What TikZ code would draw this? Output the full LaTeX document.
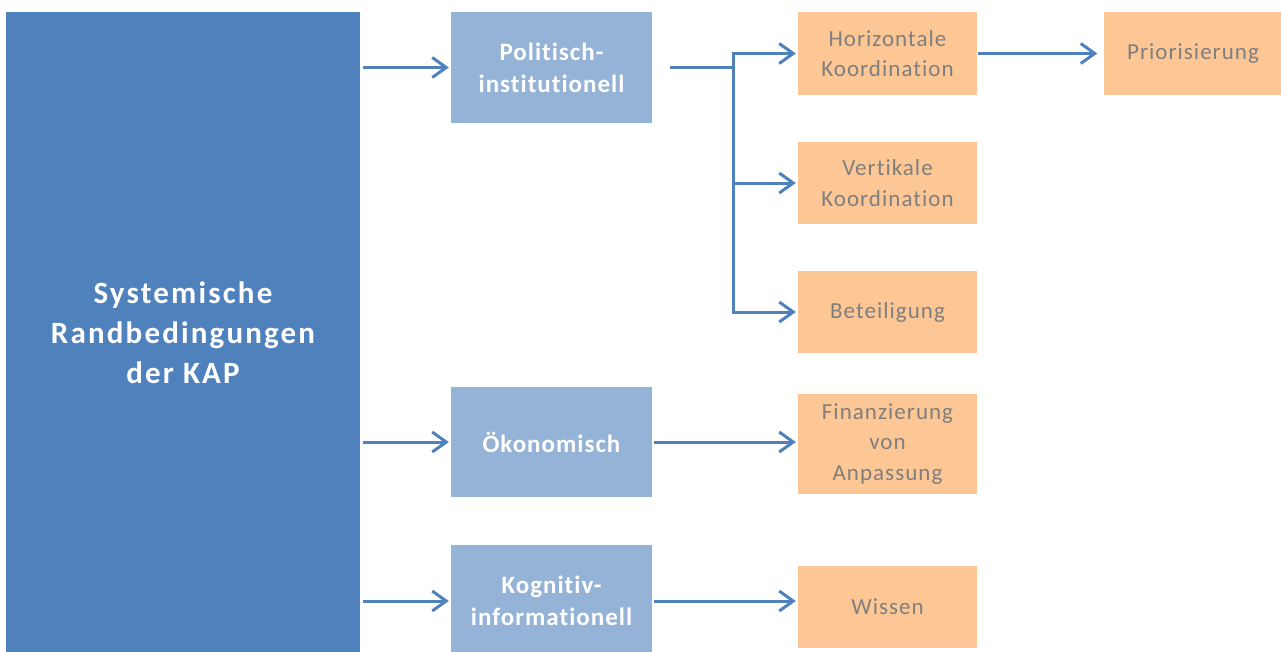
\documentclass[tikz,border=0pt]{standalone}
\usepackage{fontspec}
\setmainfont{Carlito}[Ligatures=NoCommon]
\usepackage{tikz}
\usetikzlibrary{arrows.meta}
\definecolor{darkblue}{HTML}{4F81BD}
\definecolor{lightblue}{HTML}{95B3D7}
\definecolor{lightorange}{HTML}{FCC794}
\definecolor{textgray}{HTML}{7F7F7F}

\begin{document}
\begin{tikzpicture}[x=1pt,y=-1pt]
\tikzset{main box/.style={
    fill=darkblue, text=white,
    font=\fontsize{31}{40}\selectfont\bfseries\addfontfeatures{LetterSpace=7},
    align=center, inner sep=0pt,
    minimum width=354pt, minimum height=642pt
  },
  area box/.style={
    fill=lightblue, text=white,
    font=\fontsize{25}{32}\selectfont\bfseries\addfontfeatures{LetterSpace=4},
    align=center, inner sep=0pt,
    minimum width=201pt, minimum height=#1
  },
  area box/.default=111pt,
  item box/.style={
    fill=lightorange, text=textgray,
    font=\fontsize{23}{30.5}\selectfont\addfontfeatures{LetterSpace=4.5},
    align=center, inner sep=0pt,
    minimum width=179pt, minimum height=#1
  },
  item box/.default=82pt,
  link/.style={
    draw=darkblue, line width=3pt,
    -{Straight Barb[length=14pt,width=20pt]},
    shorten >=2pt
  }
}
\clip (0,0) rectangle (1281,651);
% boxes
\node[main box] (sys) at (183,333) {Systemische\\Randbedingungen\\der KAP};
\node[area box] (pol) at (551.5,67.5) {Politisch-\\institutionell};
\node[area box=110pt] (oek) at (551.5,442) {Ökonomisch};
\node[area box=112pt] (kog) at (551.5,601) {Kognitiv-\\informationell};
\node[item box=83pt] (hor) at (887.5,53.5) {Horizontale\\Koordination};
\node[item box] (ver) at (887.5,183) {Vertikale\\Koordination};
\node[item box] (bet) at (887.5,312) {Beteiligung};
\node[item box=100pt] (fin) at (887.5,444) {Finanzierung\\von\\Anpassung};
\node[item box] (wis) at (887.5,607) {Wissen};
\node[item box=83pt] (pri) at (1193,53.5) {Priorisierung};
% connectors
\foreach \n in {pol,oek,kog}
  \draw[link,shorten <=3pt] (sys.east |- \n.west) -- (\n.west);
\coordinate (jn) at (733,67.5);
\draw[draw=darkblue,line width=3pt] ([xshift=18pt]pol.east) -- (jn);
\draw[link] (jn |- ver.west) -- (jn |- hor.west) -- (hor.west);
\draw[link] (jn |- ver.west) -- (ver.west);
\draw[link] (jn |- ver.west) -- (jn |- bet.west) -- (bet.west);
\draw[link,shorten <=2pt] (oek.east) -- (oek.east -| fin.west);
\draw[link,shorten <=2pt] (kog.east) -- (kog.east -| wis.west);
\draw[link,shorten <=1pt,shorten >=6pt] (hor.east) -- (pri.west);
\end{tikzpicture}
\end{document}
